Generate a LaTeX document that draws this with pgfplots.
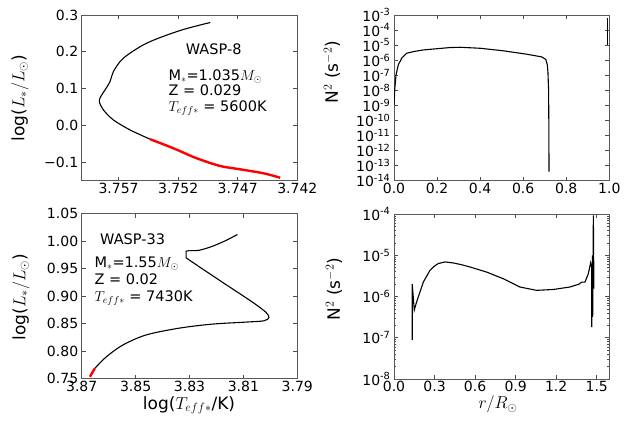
\documentclass[border=0pt]{standalone}
\usepackage{fontspec}
\setmainfont{DejaVu Sans}
\usepackage{pgfplots}
\pgfplotsset{compat=1.18}
\newcommand\tk{\fontsize{14}{15}\selectfont}
\newcommand\lb{\fontsize{17}{19}\selectfont}
\newcommand\an{\fontsize{14.5}{16}\selectfont}
\pgfplotsset{
  panel/.style={
    scale only axis, anchor=south west,
    axis line style={black!65, line width=1pt},
    every tick/.style={black!70, line width=0.6pt},
    major tick length=4pt, minor tick length=2pt,
    tick label style={font=\tk},
    xticklabel style={yshift=1pt},
    clip=true,
  },
  blk/.style={black, line width=1.1pt, no marks},
  redl/.style={red, line width=2.4pt, no marks},
}
\begin{document}
\begin{tikzpicture}[x=1pt,y=1pt]
\path[use as bounding box] (0,0) rectangle (636,424);
% ---------- top left ----------
\begin{axis}[panel, at={(81.7pt,243.3pt)}, width=215.6pt, height=165.7pt,
  x dir=reverse, xmin=3.742, xmax=3.7601, ymin=-0.151, ymax=0.3,
  xtick={3.757,3.752,3.747,3.742}, xticklabels={3.757,3.752,3.747,3.742},
  ytick={-0.1,0,0.1,0.2,0.3}, yticklabels={−0.1,0.0,0.1,0.2,0.3}]
\addplot[blk, smooth, tension=0.5] coordinates {
(3.7493,0.2796) (3.75184,0.2578) (3.75464,0.2234) (3.75660,0.1826)
(3.75744,0.146) (3.75772,0.119) (3.75814,0.0962) (3.7585,0.078)
(3.75862,0.0643) (3.75828,0.0417) (3.75744,0.0144) (3.75604,-0.0128)
(3.75436,-0.038)};
\addplot[redl, smooth, tension=0.5] coordinates {
(3.75436,-0.038) (3.7524,-0.0627) (3.75044,-0.09) (3.74848,-0.1109)
(3.7468,-0.12) (3.74484,-0.1308) (3.74344,-0.1428)};
\end{axis}
% ---------- top right ----------
\begin{axis}[panel, at={(394pt,243.3pt)}, width=215.3pt, height=165.7pt,
  xmin=0, xmax=1, ymode=log, ymin=1e-14, ymax=1e-3, yminorticks=false,
  xtick={0,0.2,0.4,0.6,0.8,1.0}, xticklabels={0.0,0.2,0.4,0.6,0.8,1.0},
  ytick={1e-14,1e-13,1e-12,1e-11,1e-10,1e-9,1e-8,1e-7,1e-6,1e-5,1e-4,1e-3},
  yticklabels={10\textsuperscript{-14},10\textsuperscript{-13},10\textsuperscript{-12},10\textsuperscript{-11},10\textsuperscript{-10},10\textsuperscript{-9},10\textsuperscript{-8},10\textsuperscript{-7},10\textsuperscript{-6},10\textsuperscript{-5},10\textsuperscript{-4},10\textsuperscript{-3}}]
\addplot[blk] coordinates {
(0.0,1.1e-9) (0.0033,1.07e-8) (0.0093,1.05e-7) (0.0199,4.9e-7) (0.0357,1.35e-6)
(0.059,2.9e-6) (0.090,3.7e-6) (0.136,4.8e-6) (0.198,5.75e-6) (0.260,6.9e-6)
(0.307,7.2e-6) (0.40,6.2e-6) (0.508,4.2e-6) (0.616,2.5e-6) (0.686,1.66e-6)
(0.705,1.12e-6) (0.712,5e-7) (0.715,1.6e-7) (0.718,1e-8) (0.719,1e-10) (0.72,4e-14)};
\addplot[blk] coordinates {(0.9925,6e-4) (0.9925,1.02e-5)};
\end{axis}
% ---------- bottom left ----------
\begin{axis}[panel, at={(81.7pt,45.3pt)}, width=215.6pt, height=165pt,
  x dir=reverse, xmin=3.79, xmax=3.87, ymin=0.75, ymax=1.05,
  xtick={3.87,3.85,3.83,3.81,3.79}, xticklabels={3.87,3.85,3.83,3.81,3.79},
  ytick={0.75,0.8,0.85,0.9,0.95,1.0,1.05}, yticklabels={0.75,0.80,0.85,0.90,0.95,1.00,1.05}]
\addplot[blk, smooth, tension=0.5] coordinates {
(3.8651,0.769) (3.86078,0.7901) (3.85465,0.8115) (3.84602,0.8297) (3.83373,0.842)
(3.82144,0.8493) (3.80912,0.8529) (3.80236,0.8553) (3.80052,0.8613) (3.80174,0.8712)
(3.80668,0.8894) (3.81528,0.9173) (3.82388,0.9453) (3.83126,0.9697)};
\addplot[blk] coordinates {(3.83126,0.9697) (3.83126,0.9818) (3.83003,0.983)};
\addplot[blk, smooth, tension=0.5] coordinates {
(3.83003,0.983) (3.82635,0.9836) (3.82144,0.9909) (3.8165,1.0013) (3.81221,1.0122)};
\addplot[redl] coordinates {(3.86694,0.7536) (3.8660,0.7615) (3.8651,0.769)};
\end{axis}
% ---------- bottom right ----------
\begin{axis}[panel, at={(394pt,45pt)}, width=215.3pt, height=165pt,
  xmin=0, xmax=1.593, ymode=log, ymin=1e-8, ymax=1e-4,
  xtick={0,0.3,0.6,0.9,1.2,1.5}, xticklabels={0.0,0.3,0.6,0.9,1.2,1.5},
  ytick={1e-8,1e-7,1e-6,1e-5,1e-4},
  yticklabels={10\textsuperscript{-8},10\textsuperscript{-7},10\textsuperscript{-6},10\textsuperscript{-5},10\textsuperscript{-4}}]
\addplot[blk] coordinates {
(0.135,8.9e-8) (0.135,2.0e-6) (0.150,4.7e-7) (0.165,7.0e-7) (0.180,9.8e-7) (0.217,2.24e-6)
(0.266,4.3e-6) (0.300,5.5e-6) (0.328,6.3e-6) (0.377,6.9e-6) (0.439,6.5e-6) (0.500,5.9e-6) (0.562,5.2e-6)
(0.686,3.9e-6) (0.808,2.7e-6) (0.932,1.7e-6) (1.055,1.41e-6) (1.178,1.48e-6)
(1.302,1.7e-6) (1.370,2.0e-6) (1.388,2.24e-6) (1.413,2.24e-6) (1.437,3.5e-6) (1.455,6.6e-6)
(1.462,5.2e-6) (1.463,1.8e-7) (1.468,1.0e-5) (1.470,3.2e-7) (1.475,9.3e-5) (1.479,1.55e-6)};
\end{axis}
% ---------- labels ----------
\node[rotate=90, font=\lb] at (20,326) {log($L_*/L_\odot$)};
\node[rotate=90, font=\lb] at (332,352) {N$^2$ (s$^{-2}$)};
\node[rotate=90, font=\lb] at (21,127) {log($L_*/L_\odot$)};
\node[rotate=90, font=\lb] at (334,135) {N$^2$ (s$^{-2}$)};
\node[font=\lb, anchor=base] at (189,15) {log($T_{eff*}$/K)};
\node[font=\lb, anchor=base] at (498,15.5) {$r/R_\odot$};
% ---------- annotations ----------
\node[font=\an, anchor=base, inner sep=0pt] at (213.7,370) {WASP-8};
\node[font=\an, anchor=base west, inner sep=0pt] at (168.3,344) {M$_*$=1.035$M_\odot$};
\node[font=\an, anchor=base west, inner sep=0pt] at (168.3,329) {Z = 0.029};
\node[font=\an, anchor=base west, inner sep=0pt] at (168.3,312.3) {$T_{eff*}$ = 5600K};
\node[font=\an, anchor=base west, inner sep=0pt] at (100,179.7) {WASP-33};
\node[font=\an, anchor=base west, inner sep=0pt] at (94.3,157) {M$_*$=1.55$M_\odot$};
\node[font=\an, anchor=base west, inner sep=0pt] at (94.3,139.3) {Z = 0.02};
\node[font=\an, anchor=base west, inner sep=0pt] at (94.3,122.7) {$T_{eff*}$ = 7430K};
\end{tikzpicture}
\end{document}
